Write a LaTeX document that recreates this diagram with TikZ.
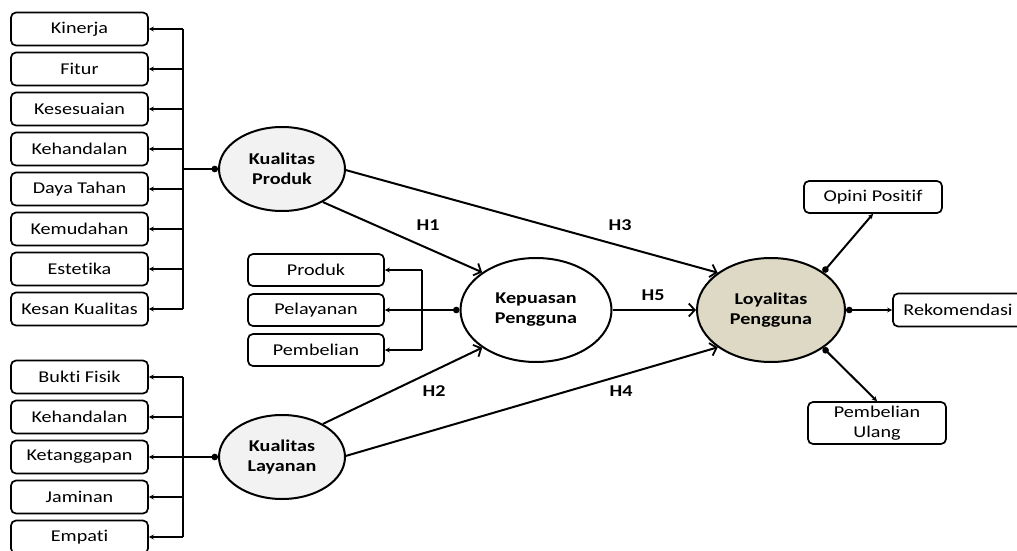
\documentclass[tikz,border=0pt]{standalone}
\usepackage{fontspec}
\setmainfont{Carlito}[FakeStretch=1.22, Ligatures=NoCommon]
\usetikzlibrary{shapes.geometric,arrows.meta,calc}
\definecolor{loyfill}{HTML}{DDD9C4}
\definecolor{lvfill}{HTML}{F2F2F2}
\tikzset{
  ind/.style={draw, rounded corners=5pt, line width=1.7pt, minimum width=137pt, minimum height=33pt, inner sep=1pt, font=\fontsize{16.5}{18}\selectfont, fill=white},
  lv/.style={ellipse, draw, line width=2pt, inner sep=0pt, align=center, font=\bfseries\fontsize{16.5}{20}\selectfont},
  conn/.style={line width=2pt},
  indarrow/.style={line width=2pt, -{Stealth[length=5pt,width=5pt]}},
  patharrow/.style={line width=2pt, -{Straight Barb[length=6pt,width=13pt,line width=1.8pt]}},
  dotstart/.style={{Circle[length=6.5pt]}-},
  hlabel/.style={font=\bfseries\fontsize{16.5}{18}\selectfont}
}
\begin{document}
\begin{tikzpicture}[x=1pt,y=-1pt]
\useasboundingbox (0,0) rectangle (1017,551);
\clip (0,0) rectangle (1017,551);
% latent variables
\node[lv, fill=lvfill, minimum width=126pt, minimum height=84pt] (kp) at (282,169) {Kualitas\\Produk};
\node[lv, fill=lvfill, minimum width=126pt, minimum height=84pt] (kl) at (282,457) {Kualitas\\Layanan};
\node[lv, fill=white, minimum width=151pt, minimum height=104pt] (kep) at (536,310) {Kepuasan\\Pengguna};
\node[lv, fill=loyfill, minimum width=148pt, minimum height=104pt] (loy) at (771,310) {Loyalitas\\Pengguna};
% product quality indicators
\node[ind] (p1) at (79.5,29) {Kinerja};
\node[ind] (p2) at (79.5,69) {Fitur};
\node[ind] (p3) at (79.5,109) {Kesesuaian};
\node[ind] (p4) at (79.5,149) {Kehandalan};
\node[ind] (p5) at (79.5,189) {Daya Tahan};
\node[ind] (p6) at (79.5,229) {Kemudahan};
\node[ind] (p7) at (79.5,269) {Estetika};
\node[ind] (p8) at (79.5,309) {Kesan Kualitas};
% service quality indicators
\node[ind] (s1) at (79.5,377) {Bukti Fisik};
\node[ind] (s2) at (79.5,417) {Kehandalan};
\node[ind] (s3) at (79.5,457) {Ketanggapan};
\node[ind] (s4) at (79.5,497) {Jaminan};
\node[ind] (s5) at (79.5,537) {Empati};
% satisfaction indicators
\node[ind, minimum width=136pt, minimum height=32pt] (c1) at (316,270) {Produk};
\node[ind, minimum width=136pt, minimum height=32pt] (c2) at (316,310) {Pelayanan};
\node[ind, minimum width=136pt, minimum height=32pt] (c3) at (316,350) {Pembelian};
% loyalty indicators
\node[ind, minimum width=138pt, minimum height=32pt] (l1) at (873,197) {Opini Positif};
\node[ind, minimum width=130pt, minimum height=33pt] (l2) at (958,310) {Rekomendasi};
\node[ind, minimum width=138pt, minimum height=42pt, align=center, font=\fontsize{16.5}{20}\selectfont] (l3) at (877,423) {Pembelian\\Ulang};
% buses
\coordinate (pbus) at (183,169);
\coordinate (sbus) at (183,457);
\coordinate (cbus) at (422,310);
\draw[conn] (pbus |- p1.east) -- (pbus |- p8.east);
\draw[conn, dotstart] (kp.west) -- (pbus);
\foreach \n in {p1,p2,p3,p4,p5,p6,p7,p8}
  \draw[indarrow] (pbus |- \n.east) -- (\n.east);
\draw[conn] (sbus |- s1.east) -- (sbus |- s5.east);
\draw[conn, dotstart] (kl.west) -- (sbus);
\foreach \n in {s1,s2,s4,s5}
  \draw[indarrow] (sbus |- \n.east) -- (\n.east);
\draw[indarrow] (sbus) -- (s3.east);
\draw[conn] (cbus |- c1.east) -- (cbus |- c3.east);
\draw[indarrow, {Circle[length=6.5pt]}-{Stealth[length=5pt,width=5pt]}] (kep.west) -- (c2.east);
\draw[indarrow] (cbus |- c1.east) -- (c1.east);
\draw[indarrow] (cbus |- c3.east) -- (c3.east);
% loyalty indicators
\draw[indarrow, {Circle[length=6.5pt]}-{Stealth[length=5pt,width=5pt]}] (loy.36) -- (l1.south);
\draw[indarrow, {Circle[length=6.5pt]}-{Stealth[length=5pt,width=5pt]}] (loy.east) -- (l2.west);
\draw[indarrow, {Circle[length=6.5pt]}-{Stealth[length=5pt,width=5pt]}] (loy.-36) -- (l3.north);
% structural paths
\draw[patharrow] (kp.-39) -- (kep.145);
\draw[patharrow] (kp.-1) -- (loy.145);
\draw[patharrow] (kep.east) -- (loy.west);
\draw[patharrow] (kl.39) -- (kep.215);
\draw[patharrow] (kl.1) -- (loy.215);
% hypothesis labels
\node[hlabel] (h1) at (428,225) {H1};
\node[hlabel] (h3) at (620,225) {H3};
\node[hlabel] (h5) at (653,295) {H5};
\node[hlabel] (h2) at (434,391) {H2};
\node[hlabel] (h4) at (621,391) {H4};
\end{tikzpicture}
\end{document}
